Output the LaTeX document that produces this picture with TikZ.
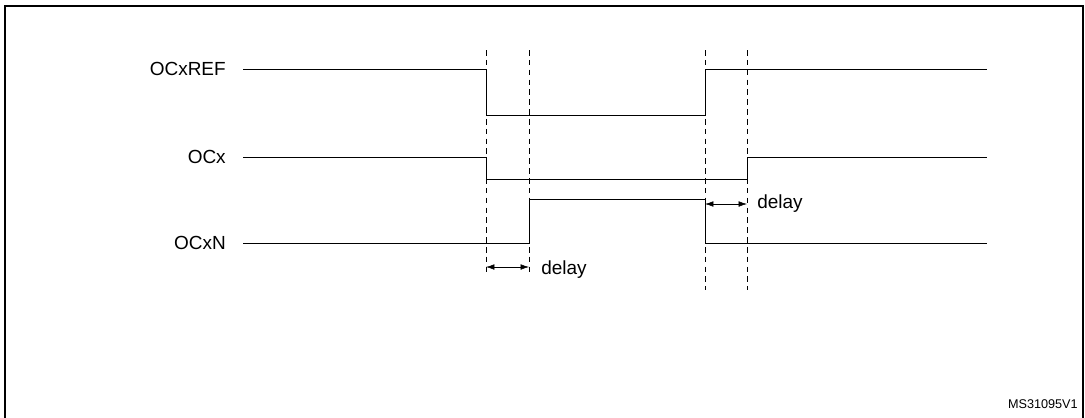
\documentclass[tikz,border=0pt]{standalone}
\usepackage{fontspec}
\setmainfont{Liberation Sans}
\usetikzlibrary{arrows.meta,positioning}
\tikzset{
    sig/.style={semithick},
    guide/.style={thin, dashed, dash pattern=on 4pt off 3pt},
    span/.style={thin, {Latex[length=6pt,width=4pt]}-{Latex[length=6pt,width=4pt]}},
    lbl/.style={font=\fontsize{13.5}{16}\selectfont, inner sep=0pt}
}
\begin{document}
\begin{tikzpicture}[x=0.025cm, y=-0.025cm]
    \useasboundingbox (0,0) rectangle (1085,417);
    \draw[thick] (5,420) -- (5,6) -- (1083,6) -- (1083,420);
    % signal labels
    \node[lbl, anchor=east] (lref) at (226,69) {OCxREF};
    \node[lbl, anchor=east] (loc) at (226,157) {OCx};
    \node[lbl, anchor=east] (locn) at (226,243) {OCxN};
    % edge times
    \coordinate (t1) at (486,0);
    \coordinate (t2) at (529,0);
    \coordinate (t3) at (705,0);
    \coordinate (t4) at (747,0);
    \foreach \t/\b in {t1/275, t2/275, t3/290, t4/290}
        \draw[guide] (\t |- 0,50) -- (\t |- 0,\b);
    % waveforms
    \draw[sig] (243,69) -| (t1 |- 0,115) -| (t3 |- 0,69) -- (987,69);
    \draw[sig] (243,157) -| (t1 |- 0,179) -| (t4 |- 0,157) -- (987,157);
    \draw[sig] (243,243) -| (t2 |- 0,199) -| (t3 |- 0,243) -- (987,243);
    % dead time
    \draw[span] (t1 |- 0,267) -- (t2 |- 0,267);
    \node[lbl, anchor=west] (d1) at (541,270) {delay};
    \draw[span] (t3 |- 0,204) -- (t4 |- 0,204);
    \node[lbl, anchor=west] (d2) at (757,204) {delay};
    \node[font=\fontsize{9}{11}\selectfont, inner sep=0pt, anchor=east] (ref) at (1078,404) {MS31095V1};
\end{tikzpicture}
\end{document}
